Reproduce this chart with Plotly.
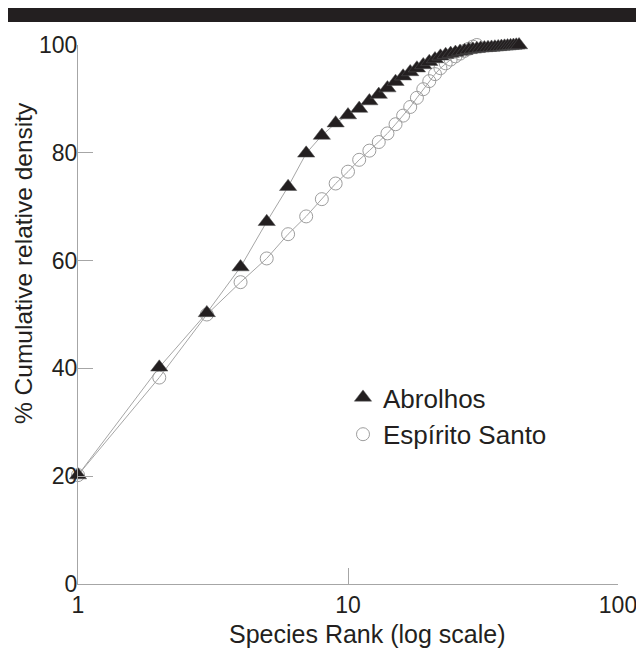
import plotly.graph_objects as go

abrolhos_rank = list(range(1, 44))
abrolhos_cum = [20.2, 40.2, 50.3, 58.8, 67.2, 73.7, 79.9, 83.2, 85.5, 87.0,
                88.2, 89.6, 90.8, 92.0, 93.2, 94.2, 95.0, 95.7, 96.3, 96.9,
                97.4, 97.9, 98.2, 98.4, 98.6, 98.8, 98.95, 99.1, 99.2, 99.3,
                99.4, 99.45, 99.5, 99.55, 99.6, 99.65, 99.7, 99.75, 99.8, 99.85,
                99.9, 99.95, 100.0]

es_rank = list(range(1, 31))
es_cum = [20.2, 38.3, 50.0, 56.0, 60.4, 64.9, 68.2, 71.4, 74.3, 76.5,
          78.7, 80.4, 82.0, 83.6, 85.3, 86.9, 88.5, 90.2, 91.8, 93.3,
          94.6, 95.7, 96.6, 97.3, 97.9, 98.4, 98.9, 99.3, 99.7, 100.0]

x_ticks = [1, 10, 100]
y_ticks = [0, 20, 40, 60, 80, 100]

INK = "#231f20"
GREY = "#a6a6a6"
FONT = "Liberation Sans, Arial, sans-serif"

# page body has an 8px margin: size the figure so the plot area lands
# at x 78..618, y 45..584 of the window
W, H = 636, 645
L, T = 70, 37
PW, PH = 540, 539


def px(xw):
    return (xw - 8 - L) / PW


def py(yw):
    return (T + PH - (yw - 8)) / PH


fig = go.Figure()
# connecting lines
fig.add_trace(go.Scatter(x=es_rank, y=es_cum, mode="lines", showlegend=False,
                         line=dict(color=GREY, width=1), hoverinfo="skip", cliponaxis=False))
fig.add_trace(go.Scatter(x=abrolhos_rank, y=abrolhos_cum, mode="lines", showlegend=False,
                         line=dict(color=GREY, width=1), hoverinfo="skip", cliponaxis=False))
# markers
fig.add_trace(go.Scatter(
    x=es_rank, y=es_cum, mode="markers", name="Espírito Santo",
    marker=dict(symbol="circle-open", size=13, color="#9d9d9d", line=dict(width=1)),
    cliponaxis=False, legendrank=2,
))
fig.add_trace(go.Scatter(
    x=abrolhos_rank, y=abrolhos_cum, mode="markers", name="Abrolhos",
    marker=dict(symbol="triangle-up", size=15, color=INK, line=dict(width=0.5, color="#555555")),
    cliponaxis=False, legendrank=1,
))

fig.update_layout(
    width=W, height=H,
    margin=dict(l=L, r=W - L - PW, t=T, b=H - T - PH),
    paper_bgcolor="white", plot_bgcolor="white",
    font=dict(family=FONT, color=INK, size=20),
    showlegend=True,
    legend=dict(x=px(343), y=py(374), xanchor="left", yanchor="top",
                font=dict(size=26, family=FONT, color=INK),
                bgcolor="rgba(0,0,0,0)", tracegroupgap=0, itemwidth=30),
    xaxis=dict(type="log", range=[0, 2], tickvals=x_ticks, ticktext=[str(v) for v in x_ticks],
               showgrid=False, zeroline=False, showline=True, linecolor=GREY, linewidth=1,
               ticks="inside", ticklen=16, tickcolor=GREY, tickwidth=1, automargin=False,
               tickfont=dict(size=23, family=FONT, color=INK)),
    yaxis=dict(range=[0, 100], tickvals=y_ticks,
               showgrid=False, zeroline=False, showline=True, linecolor=GREY, linewidth=1,
               ticks="inside", ticklen=15, tickcolor=GREY, tickwidth=1, automargin=False,
               ticklabelstandoff=-5,
               tickfont=dict(size=23, family=FONT, color=INK)),
    annotations=[
        dict(text="Species Rank (log scale)", xref="paper", yref="paper",
             x=px(367), y=py(634), xanchor="center", yanchor="middle",
             showarrow=False, font=dict(size=25, family=FONT, color=INK)),
        dict(text="% Cumulative relative density", xref="paper", yref="paper",
             x=px(23), y=py(263), xanchor="center", yanchor="middle",
             textangle=-90, showarrow=False, font=dict(size=24.5, family=FONT, color=INK)),
    ],
    shapes=[dict(type="rect", xref="paper", yref="paper",
                 x0=px(5), x1=px(650), y0=py(22), y1=py(4),
                 fillcolor=INK, line=dict(width=0), layer="above")],
)

fig.write_html("out.html")
